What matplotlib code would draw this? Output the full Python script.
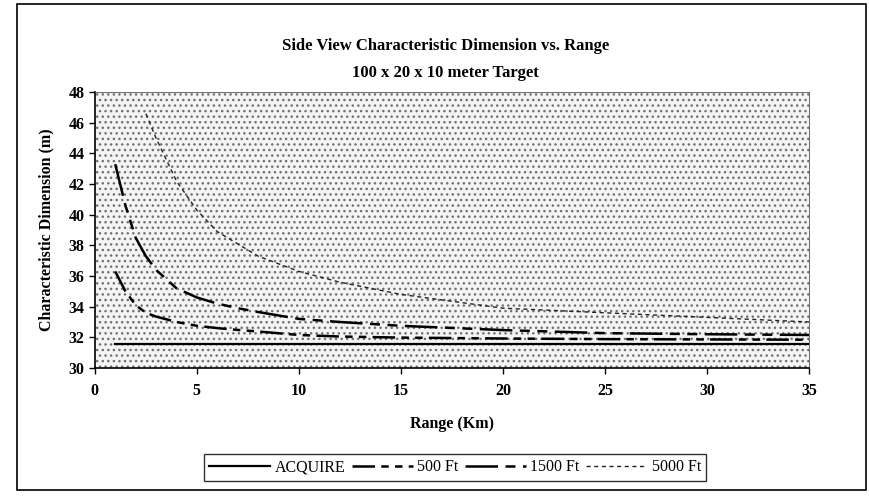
import numpy as np
import matplotlib.pyplot as plt
from matplotlib.patches import Rectangle

# range (km) and characteristic dimension (m)
rng = [1, 1.5, 2, 2.5, 3, 4, 5, 6, 7, 8, 10, 12, 15, 20, 25, 30, 35]
acquire = [31.55] * len(rng)
ft500 = [36.3, 35.0, 34.1, 33.6, 33.35, 33.0, 32.75, 32.6, 32.48, 32.38,
         32.15, 32.05, 31.98, 31.92, 31.88, 31.86, 31.84]
ft1500 = [43.3, 40.6, 38.5, 37.3, 36.4, 35.2, 34.6, 34.2, 33.9, 33.65,
          33.2, 33.0, 32.75, 32.47, 32.27, 32.2, 32.15]
rng5000 = [2.5, 3, 4, 5, 6, 7, 8, 10, 12, 15, 20, 25, 30, 35]
ft5000 = [46.6, 45.0, 42.2, 40.3, 38.9, 38.1, 37.3, 36.3, 35.6, 34.8,
          33.9, 33.6, 33.3, 33.0]

xticks = [0, 5, 10, 15, 20, 25, 30, 35]
yticks = [30, 32, 34, 36, 38, 40, 42, 44, 46, 48]

plt.rcParams['font.family'] = ['Liberation Serif', 'DejaVu Serif']
plt.rcParams['hatch.linewidth'] = 1.0
plt.rcParams['hatch.color'] = '#707070'

fig = plt.figure(figsize=(8.7, 5.04), dpi=100)
ax = fig.add_axes([0.109, 0.270, 0.821, 0.547])

# outer frame of the chart
fig.patches.append(Rectangle((0.02, 0.028), 0.975, 0.965, transform=fig.transFigure,
                             fill=False, edgecolor='black', lw=1.2))

# stippled plot background
ax.add_patch(Rectangle((0, 0), 1, 1, transform=ax.transAxes, facecolor='#f4f4f4',
                       hatch='...', lw=0, zorder=0))

ax.plot(rng, acquire, color='black', lw=1.6, label='ACQUIRE')
ax.plot(rng, ft500, color='black', lw=1.8, dashes=[9, 2.5, 3, 2.5, 3, 2.5], label='500 Ft')
ax.plot(rng, ft1500, color='black', lw=1.8, dashes=[13, 3, 4, 3, 4, 3], label='1500 Ft')
ax.plot(rng5000, ft5000, color='#222222', lw=1.0, dashes=[3, 2.5], label='5000 Ft')

ax.set_xlim(0, 35)
ax.set_ylim(30, 48)
ax.set_xticks(xticks)
ax.set_yticks(yticks)
ax.tick_params(labelsize=11.5, direction='out', length=4, width=1)
ax.tick_params(axis='x', pad=7)
for lbl in ax.get_xticklabels() + ax.get_yticklabels():
    lbl.set_fontweight('bold')
for s in ['top', 'right']:
    ax.spines[s].set_linewidth(0.6)
    ax.spines[s].set_color('#555555')
for s in ['left', 'bottom']:
    ax.spines[s].set_linewidth(1.2)

ax.set_xlabel('Range (Km)', fontsize=11.5, fontweight='bold', labelpad=12)
ax.set_ylabel('Characteristic Dimension (m)', fontsize=11.5, fontweight='bold', labelpad=10)

fig.text(0.512, 0.90, 'Side View Characteristic Dimension vs. Range', ha='center',
         fontsize=12, fontweight='bold')
fig.text(0.512, 0.848, '100 x 20 x 10 meter Target', ha='center',
         fontsize=12, fontweight='bold')

leg = fig.legend(loc='center', bbox_to_anchor=(0.523, 0.073), ncol=4, frameon=True,
                 fancybox=False, edgecolor='black', fontsize=11.5, handlelength=3.8,
                 handletextpad=0.3, columnspacing=0.4, borderpad=0.35)
leg.get_frame().set_linewidth(1.0)

fig.savefig('out.png', dpi=100)
